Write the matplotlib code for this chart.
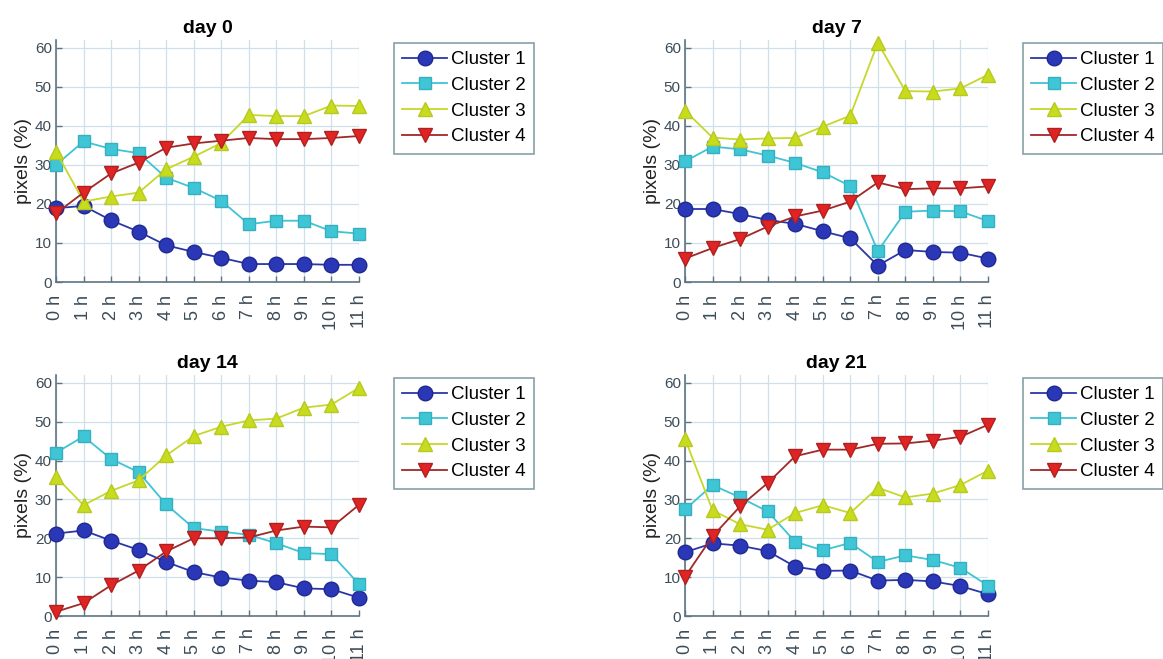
import matplotlib
matplotlib.use("Agg")
import matplotlib.pyplot as plt
import numpy as np

plt.rcParams['font.family'] = ['Liberation Sans', 'DejaVu Sans']

hours = ["0 h", "1 h", "2 h", "3 h", "4 h", "5 h", "6 h", "7 h", "8 h", "9 h", "10 h", "11 h"]
titles = ["day 0", "day 7", "day 14", "day 21"]
cluster_names = ["Cluster 1", "Cluster 2", "Cluster 3", "Cluster 4"]

day0_c1 = [18.9, 19.5, 15.8, 12.9, 9.4, 7.7, 6.2, 4.6, 4.6, 4.6, 4.4, 4.4]
day0_c2 = [30.0, 36.0, 34.1, 33.0, 26.7, 24.1, 20.8, 14.8, 15.7, 15.7, 13.0, 12.4]
day0_c3 = [33.4, 20.6, 21.9, 22.9, 28.9, 32.1, 35.6, 42.8, 42.5, 42.5, 45.2, 45.1]
day0_c4 = [17.6, 22.9, 27.8, 30.6, 34.4, 35.5, 36.2, 36.9, 36.6, 36.6, 36.9, 37.4]

day7_c1 = [18.7, 18.7, 17.4, 15.9, 14.9, 13.0, 11.2, 4.2, 8.2, 7.7, 7.5, 6.0]
day7_c2 = [30.9, 34.7, 34.0, 32.4, 30.5, 28.1, 24.6, 7.9, 18.0, 18.3, 18.1, 15.6]
day7_c3 = [43.9, 37.0, 36.5, 36.8, 36.9, 39.8, 42.6, 61.3, 48.9, 48.8, 49.6, 53.1]
day7_c4 = [6.0, 8.7, 11.0, 14.2, 16.8, 18.3, 20.6, 25.5, 23.8, 24.0, 24.0, 24.5]

day14_c1 = [21.2, 22.0, 19.4, 17.0, 13.9, 11.3, 9.9, 9.1, 8.7, 7.1, 6.9, 4.7]
day14_c2 = [42.0, 46.2, 40.4, 37.0, 28.7, 22.6, 21.7, 20.9, 18.7, 16.2, 15.9, 8.2]
day14_c3 = [35.8, 28.5, 32.2, 34.9, 41.3, 46.3, 48.7, 50.3, 50.8, 53.6, 54.4, 58.7]
day14_c4 = [1.1, 3.3, 7.9, 11.7, 16.6, 20.0, 20.0, 20.2, 22.0, 23.0, 22.8, 28.6]

day21_c1 = [16.4, 18.7, 18.1, 16.7, 12.7, 11.6, 11.7, 9.1, 9.3, 8.9, 7.7, 5.6]
day21_c2 = [27.4, 33.7, 30.5, 26.9, 19.1, 16.9, 18.8, 13.9, 15.6, 14.4, 12.4, 7.8]
day21_c3 = [45.6, 27.2, 23.6, 22.2, 26.5, 28.5, 26.5, 33.0, 30.5, 31.5, 33.7, 37.4]
day21_c4 = [10.1, 20.5, 28.2, 34.2, 41.1, 42.8, 42.8, 44.3, 44.4, 45.1, 46.1, 49.2]

panels = [
    [day0_c1, day0_c2, day0_c3, day0_c4],
    [day7_c1, day7_c2, day7_c3, day7_c4],
    [day14_c1, day14_c2, day14_c3, day14_c4],
    [day21_c1, day21_c2, day21_c3, day21_c4],
]

styles = [
    dict(marker='o', color='#2b36a8', mfc='#2a38b8', mec='#1e2890', ms=10.5),
    dict(marker='s', color='#3fc4d4', mfc='#3fc6d6', mec='#36b0c0', ms=8),
    dict(marker='^', color='#c6d82a', mfc='#c8dc1e', mec='#b8c820', ms=10.5),
    dict(marker='v', color='#a02828', mfc='#e02424', mec='#b02020', ms=10.5),
]

W, H = 1163, 659
fig = plt.figure(figsize=(W / 100, H / 100), dpi=100)

# pixel boxes (left, top, right, bottom)
boxes = [(56, 40, 359, 282), (685, 40, 988, 282), (56, 375, 359, 616), (685, 375, 988, 616)]

spine_col = '#5f7482'
grid_col = '#cfe0ea'
tick_col = '#3c4c58'

x = np.arange(len(hours))
for idx, (l, t, r, b) in enumerate(boxes):
    ax = fig.add_axes([l / W, 1 - b / H, (r - l) / W, (b - t) / H])
    for series, st, name in zip(panels[idx], styles, cluster_names):
        ax.plot(x, series, marker=st['marker'], color=st['color'], mfc=st['mfc'],
                mec=st['mec'], ms=st['ms'], lw=1.3, mew=1.0, label=name, clip_on=False, zorder=3)
    ax.set_xlim(0, 11)
    ax.set_ylim(0, 62)
    ax.set_yticks([0, 10, 20, 30, 40, 50, 60])
    ax.set_xticks(x)
    ax.set_xticklabels(hours, rotation=90, fontsize=13, color=tick_col)
    ax.tick_params(axis='y', labelsize=11, labelcolor=tick_col, pad=3)
    ax.tick_params(axis='x', pad=9)
    ax.tick_params(direction='in', length=4, color=spine_col, width=1.0)
    ax.grid(True, color=grid_col, lw=0.9)
    ax.set_axisbelow(True)
    for s in ['top', 'right']:
        ax.spines[s].set_visible(False)
    for s in ['left', 'bottom']:
        ax.spines[s].set_color(spine_col)
        ax.spines[s].set_linewidth(1.2)
    ax.set_ylabel('pixels (%)', fontsize=14, color='#222222', labelpad=2)
    ax.set_title(titles[idx], fontsize=14, fontweight='bold', pad=5)
    leg = ax.legend(loc='upper left', bbox_to_anchor=(1.115, 0.988), borderaxespad=0,
                    fontsize=13.5, frameon=True, fancybox=False, handlelength=2.4,
                    handletextpad=0.2, labelspacing=0.45, borderpad=0.45)
    leg.get_frame().set_edgecolor('#6a8892')
    leg.get_frame().set_linewidth(1.2)

fig.savefig('out.png', dpi=100)
